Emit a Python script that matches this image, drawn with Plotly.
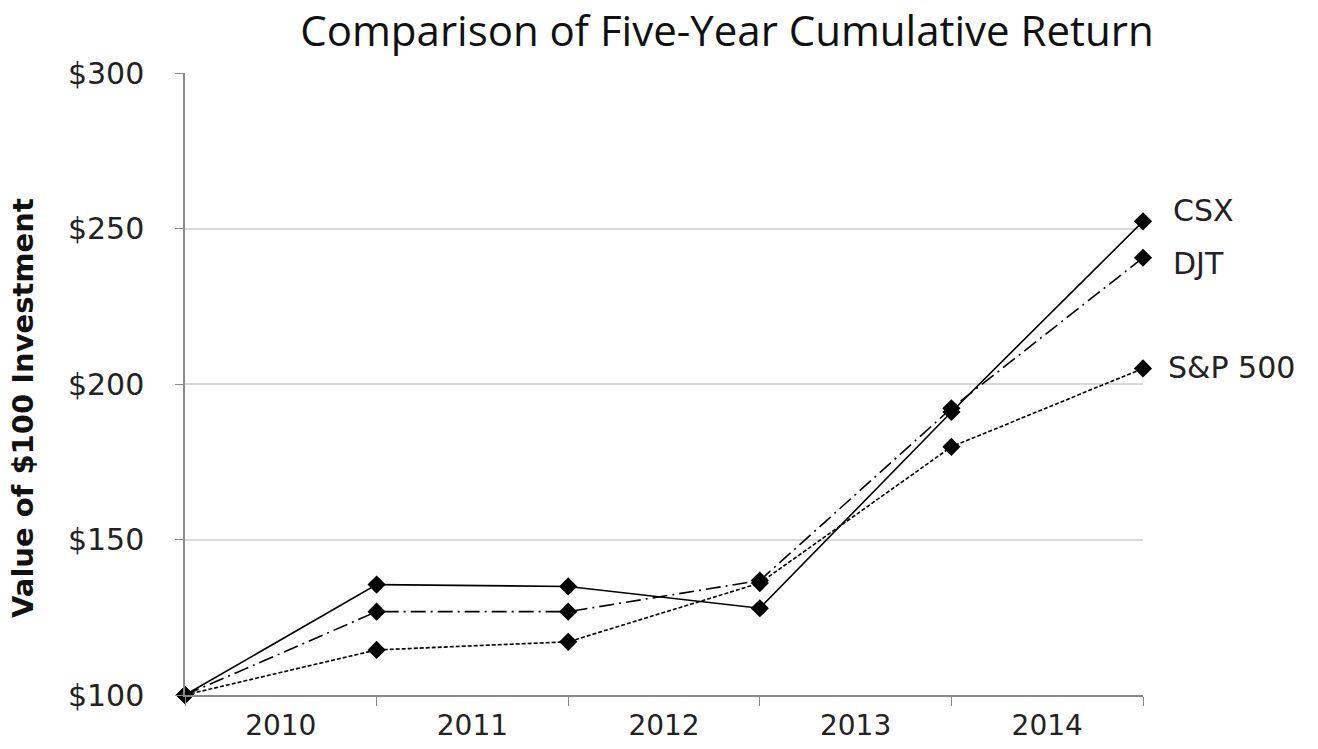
import plotly.graph_objects as go

points = [0, 1, 2, 3, 4, 5]
year_labels = ["2010", "2011", "2012", "2013", "2014"]
year_positions = [0.5, 1.5, 2.5, 3.5, 4.5]
csx = [100, 135.5, 134.9, 127.9, 191.0, 252.3]
djt = [100, 126.8, 126.8, 136.8, 192.2, 240.6]
sp500 = [100, 114.5, 117.1, 136.0, 179.8, 205.0]
y_ticks = [100, 150, 200, 250, 300]
y_tick_text = ["$100", "$150", "$200", "$250", "$300"]

series = [
    ("CSX", csx, "solid", 11, 28),
    ("DJT", djt, "15px,5px,2px,5px", -6, 28),
    ("S&P 500", sp500, "4px,2px", 1, 23),
]

fig = go.Figure()
for name, vals, dash, yshift, xshift in series:
    fig.add_trace(go.Scatter(
        x=points, y=vals, mode="lines+markers", name=name,
        line=dict(color="black", width=1.6, dash=dash),
        marker=dict(symbol="diamond", size=14, color="black"),
        cliponaxis=False, showlegend=False,
    ))
    fig.add_annotation(
        x=points[-1], y=vals[-1], text=name, showarrow=False,
        xanchor="left", yanchor="middle", xshift=xshift, yshift=yshift,
        font=dict(family="DejaVu Sans", size=30, color="#222"),
    )

fig.add_annotation(
    text="<b>Value of $100 Investment</b>", textangle=-90, showarrow=False,
    xref="paper", yref="paper", x=(23 - 185) / 958, y=(695 - 408) / 622,
    xanchor="center", yanchor="middle",
    font=dict(family="DejaVu Sans", size=29, color="#111"),
)

fig.update_layout(
    width=1318, height=749,
    margin=dict(l=185, r=175, t=73, b=54),
    paper_bgcolor="white", plot_bgcolor="white",
    title=dict(text="Comparison of Five-Year Cumulative Return",
               x=727 / 1318, xanchor="center", y=1 - 31 / 749, yanchor="middle",
               automargin=False,
               font=dict(family="Open Sans", size=42, color="#111")),
    xaxis=dict(
        range=[0, 5], tickmode="array", tickvals=year_positions, ticktext=year_labels,
        ticks="", showgrid=False, zeroline=False, ticklabelstandoff=5, automargin=False,
        showline=True, linecolor="#8a8a8a", linewidth=1.5,
        tickfont=dict(family="DejaVu Sans", size=28, color="#222"),
        minor=dict(tickmode="array", tickvals=points, ticks="outside", ticklen=9,
                   tickcolor="#8a8a8a", showgrid=False),
    ),
    yaxis=dict(
        range=[100, 300], tickmode="array", tickvals=y_ticks, ticktext=y_tick_text,
        ticks="outside", ticklen=8, tickcolor="#8a8a8a", ticklabelstandoff=25,
        automargin=False,
        showgrid=True, gridcolor="#d9d9d9", gridwidth=1.5, zeroline=False,
        showline=True, linecolor="#8a8a8a", linewidth=1.5,
        tickfont=dict(family="DejaVu Sans", size=30, color="#222"),
    ),
)

fig.write_html("out.html")
